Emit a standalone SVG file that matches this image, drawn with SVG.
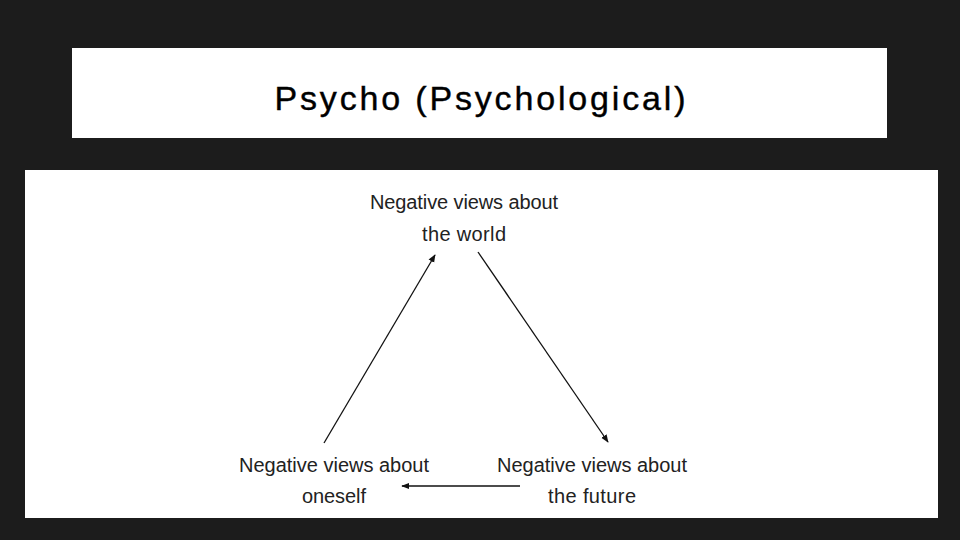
<svg xmlns="http://www.w3.org/2000/svg" width="960" height="540" viewBox="0 0 960 540">
<defs>
<marker id="ah" viewBox="0 0 10 10" refX="9" refY="5" markerWidth="8" markerHeight="8" orient="auto" markerUnits="userSpaceOnUse"><path d="M0,1 L10,5 L0,9 Z" fill="#111"/></marker>
<style>.l{font-family:"Liberation Sans",Arial,sans-serif;font-size:20px;fill:#222;text-anchor:middle}.c{stroke:#111;stroke-width:1.3;fill:none;marker-end:url(#ah)}</style>
</defs>
<rect width="960" height="540" fill="#1c1c1c"/>
<g id="title"><rect x="72" y="48" width="815" height="90" fill="#fff"/>
<text x="480" y="110" font-family="Liberation Sans,Arial,sans-serif" font-size="34" fill="#000" text-anchor="middle" textLength="411" stroke="#000" stroke-width="0.4">Psycho (Psychological)</text></g>
<rect x="25" y="170" width="913" height="348" fill="#fff"/>
<g id="world"><text class="l" x="464" y="209" textLength="188">Negative views about</text><text class="l" x="464" y="241" textLength="84">the world</text></g>
<g id="oneself"><text class="l" x="334" y="472" textLength="190">Negative views about</text><text class="l" x="334" y="503" textLength="64">oneself</text></g>
<g id="future"><text class="l" x="592" y="472" textLength="190">Negative views about</text><text class="l" x="592" y="503" textLength="88">the future</text></g>
<g id="connectors">
<line class="c" x1="324" y1="443" x2="435" y2="255"/>
<line class="c" x1="478" y1="252" x2="608" y2="442"/>
<line class="c" x1="520" y1="486" x2="402" y2="486" stroke="#555" stroke-width="2"/>
</g>
</svg>
